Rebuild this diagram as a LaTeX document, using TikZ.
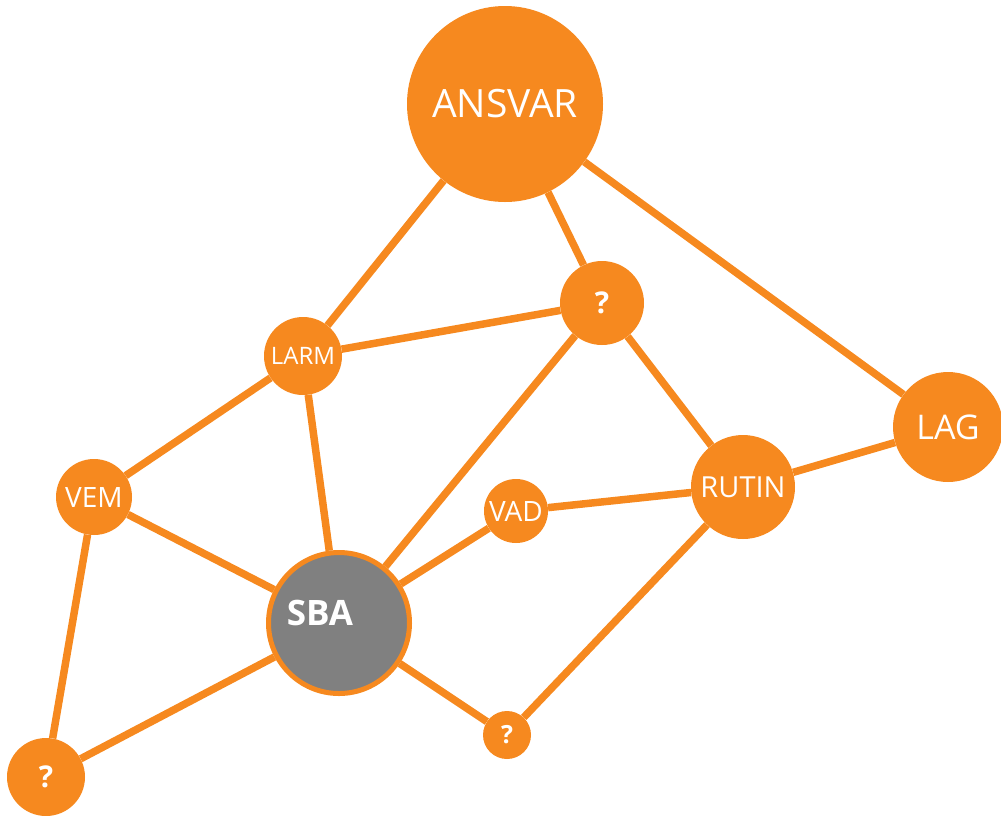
\documentclass[tikz,border=0pt]{standalone}
\usepackage{fontspec}
\setmainfont{Open Sans}
\definecolor{netorange}{RGB}{246,137,31}
\definecolor{netgray}{RGB}{128,128,128}
\tikzset{
  topic/.style={circle, fill=netorange, inner sep=0pt, text=white},
  link/.style={draw=netorange, line width=7.5pt},
}
\begin{document}
\begin{tikzpicture}[x=1pt, y=-1pt] % {{{
\useasboundingbox (0,0) rectangle (1001,815);
\begin{scope} % Noder {{{
\node[topic, minimum size=196pt, font=\fontsize{39}{42}\selectfont] at (505,104) (ansvar) {ANSVAR};
\node[topic, minimum size=84pt, font=\bfseries\fontsize{30}{32}\selectfont] at (602,303) (fragaA) {?};
\node[topic, minimum size=78pt, font=\fontsize{24}{27}\selectfont] at (303,356) (larm) {LARM};
\node[topic, minimum size=110pt, font=\fontsize{34}{36}\selectfont] at (948,427) (lag) {LAG};
\node[topic, minimum size=104pt, font=\fontsize{29}{32}\selectfont] at (743,487) (rutin) {RUTIN};
\node[topic, minimum size=76pt, font=\fontsize{28}{30}\selectfont] at (94,497) (vem) {VEM};
\node[topic, minimum size=64pt, font=\fontsize{28}{30}\selectfont] at (516,511) (vad) {VAD};
\node[topic, minimum size=48pt, font=\bfseries\fontsize{25}{28}\selectfont] at (507,735) (fragaB) {?};
\node[topic, minimum size=78pt, font=\bfseries\fontsize{30}{32}\selectfont] at (46,777) (fragaC) {?};
\node[circle, fill=netgray, draw=netorange, line width=5pt, inner sep=0pt, minimum size=141pt] at (339,623) (sba) {};
\node[text=white, font=\bfseries\fontsize{35}{37}\selectfont] at (320,613) (sbatext) {SBA};
\end{scope} % }}}
\begin{scope} % Kanter {{{
\draw[link] (ansvar) -- (larm);
\draw[link] (ansvar) -- (fragaA);
\draw[link] (ansvar) -- (lag);
\draw[link] (larm) -- (fragaA);
\draw[link] (larm) -- (vem);
\draw[link] (larm) -- (sba);
\draw[link] (fragaA) -- (sba);
\draw[link] (fragaA) -- (rutin);
\draw[link] (lag) -- (rutin);
\draw[link] (rutin) -- (vad);
\draw[link] (rutin) -- (fragaB);
\draw[link] (vad) -- (sba);
\draw[link] (vem) -- (sba);
\draw[link] (vem) -- (fragaC);
\draw[link] (sba) -- (fragaC);
\draw[link] (sba) -- (fragaB);
\end{scope} % }}}
\end{tikzpicture} % }}}
\end{document}
